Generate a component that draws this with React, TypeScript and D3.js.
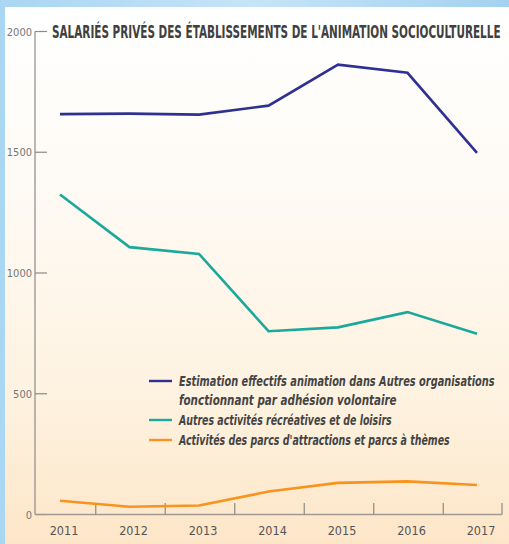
import React, { useLayoutEffect, useRef, useState } from "react";
import * as d3 from "d3";

const years = ["2011", "2012", "2013", "2014", "2015", "2016", "2017"];
const estimationAnimation = [1658, 1660, 1656, 1693, 1863, 1829, 1497];
const autresActivites = [1325, 1107, 1079, 759, 775, 838, 748];
const parcsAttractions = [57, 32, 37, 95, 131, 137, 122];
const yTicks = [0, 500, 1000, 1500, 2000];

const title = "SALARIÉS PRIVÉS DES ÉTABLISSEMENTS DE L'ANIMATION SOCIOCULTURELLE";
const series = [
  { name: "Estimation effectifs animation dans Autres organisations", name2: "fonctionnant par adhésion volontaire", values: estimationAnimation, color: "#2e3192" },
  { name: "Autres activités récréatives et de loisirs", values: autresActivites, color: "#1aa99b" },
  { name: "Activités des parcs d'attractions et parcs à thèmes", values: parcsAttractions, color: "#f7941d" },
];

const W = 509;
const H = 544;
const FONT = "'Liberation Sans Narrow', 'DejaVu Sans Condensed', 'Roboto Condensed', sans-serif";

function FitText(props: {
  x: number;
  y: number;
  width: number;
  fontSize: number;
  fill: string;
  italic?: boolean;
  children: string;
}) {
  const ref = useRef<SVGTextElement>(null);
  const [sx, setSx] = useState(1);
  useLayoutEffect(() => {
    if (ref.current) {
      const w = ref.current.getComputedTextLength();
      if (w > 0) setSx(props.width / w);
    }
  }, [props.width, props.children]);
  return (
    <text
      ref={ref}
      transform={`translate(${props.x},${props.y}) scale(${sx},1)`}
      fontSize={props.fontSize}
      fontWeight="bold"
      fontStyle={props.italic ? "italic" : "normal"}
      fill={props.fill}
    >
      {props.children}
    </text>
  );
}

export default function App() {
  const x = d3.scalePoint<string>().domain(years).range([60, 477]);
  const y = d3.scaleLinear().domain([0, 2000]).range([514.5, 31.5]);
  const step = x.step();
  const line = d3
    .line<number>()
    .x((_, i) => x(years[i]) as number)
    .y((d) => y(d));

  const legendY = [381, 420, 440];
  const legendLens = [316, 213, 271];

  return (
    <svg
      width={W}
      height={H}
      style={{ position: "absolute", left: 0, top: 0, display: "block" }}
      fontFamily={FONT}
    >
      <defs>
        <linearGradient id="bg" x1="0" y1="0" x2="1" y2="0">
          <stop offset="0" stopColor="#a9d6f2" />
          <stop offset="0.5" stopColor="#c6e4f7" />
          <stop offset="1" stopColor="#a3d2f0" />
        </linearGradient>
        <linearGradient id="panel" x1="0" y1="0" x2="0" y2="1">
          <stop offset="0" stopColor="#ffffff" />
          <stop offset="0.35" stopColor="#fefaf4" />
          <stop offset="0.7" stopColor="#fef3e2" />
          <stop offset="1" stopColor="#fde6c8" />
        </linearGradient>
      </defs>
      <rect x={0} y={0} width={W} height={H} fill="url(#bg)" />
      <rect x={5} y={7} width={W - 5} height={H - 7} fill="url(#panel)" />

      {/* y axis */}
      <line x1={35} x2={35} y1={y(2000)} y2={y(0)} stroke="#8a8a8a" strokeWidth={1.2} />
      {yTicks.map((t) => (
        <g key={t}>
          <line x1={35} x2={47} y1={y(t)} y2={y(t)} stroke="#8a8a8a" strokeWidth={1.2} />
          <text x={32} y={y(t) + 4} textAnchor="end" fontSize={11} fill="#777">
            {t}
          </text>
        </g>
      ))}

      {/* x axis */}
      <line x1={35} x2={502} y1={y(0)} y2={y(0)} stroke="#a09a94" strokeWidth={1.5} />
      {years.map((yr) => {
        const tx = Math.min((x(yr) as number) + step / 2 + 1, 502);
        return (
          <g key={yr}>
            <line x1={tx} x2={tx} y1={503} y2={y(0)} stroke="#8a8a8a" strokeWidth={1.2} />
            <text x={(x(yr) as number) + 4} y={535} textAnchor="middle" fontSize={12.5} fill="#555">
              {yr}
            </text>
          </g>
        );
      })}

      {/* title */}
      <FitText x={52} y={37.5} width={449} fontSize={17} fill="#404040">
        {title}
      </FitText>

      {/* lines */}
      {series.map((s) => (
        <path key={s.name} d={line(s.values) || ""} fill="none" stroke={s.color} strokeWidth={2.6} strokeLinejoin="miter" />
      ))}

      {/* legend */}
      {series.map((s, i) => (
        <g key={s.name + "leg"}>
          <line x1={149} x2={172} y1={legendY[i]} y2={legendY[i]} stroke={s.color} strokeWidth={2.4} />
          <FitText x={179} y={legendY[i] + 5} width={legendLens[i]} fontSize={14.5} fill="#444" italic>
            {s.name}
          </FitText>
          {s.name2 ? (
            <FitText x={179} y={legendY[i] + 24} width={218} fontSize={14.5} fill="#444" italic>
              {s.name2}
            </FitText>
          ) : null}
        </g>
      ))}
    </svg>
  );
}
